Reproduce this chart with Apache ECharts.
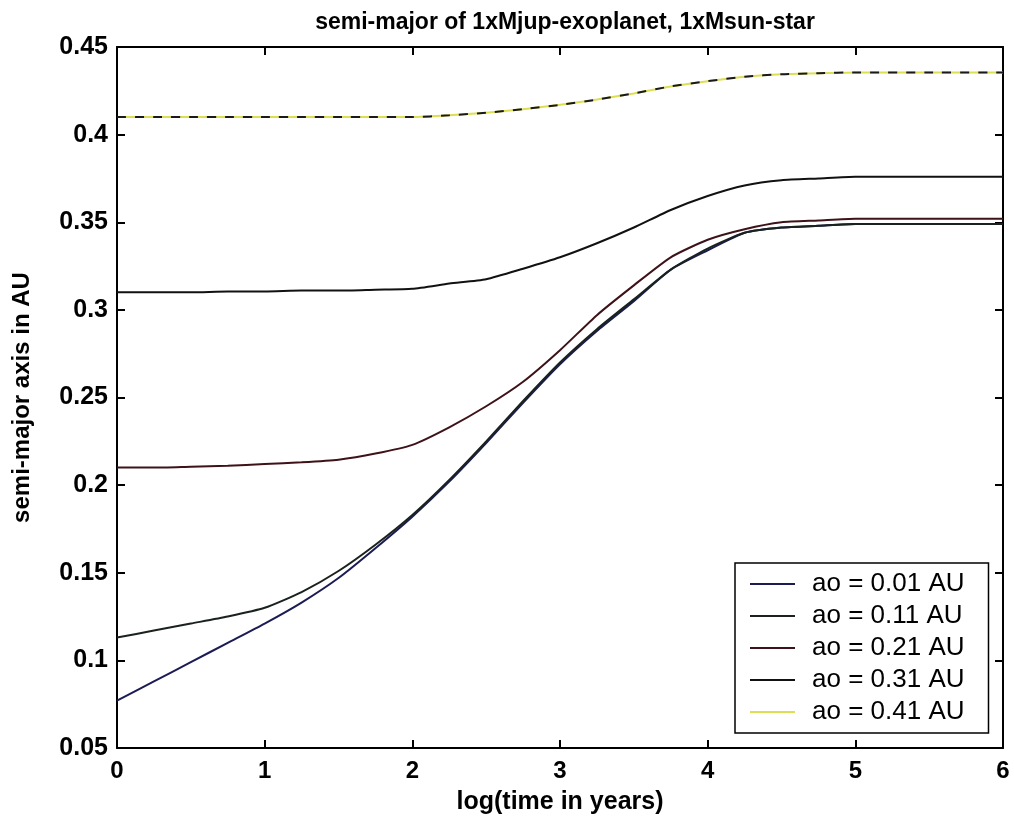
<!DOCTYPE html>
<html>
<head>
<meta charset="utf-8">
<script src="https://cdn.jsdelivr.net/npm/echarts@6/dist/echarts.min.js"></script>
<style>
html,body{margin:0;padding:0;background:#fff;}
#chart{width:1014px;height:826px;}
</style>
</head>
<body>
<div id="chart"></div>
<script>
// log10(time in years)
var logTime = [0, 0.25, 0.5, 0.75, 1, 1.25, 1.5, 1.75, 2, 2.25, 2.5, 2.75, 3, 3.25, 3.5, 3.75, 4, 4.25, 4.5, 4.75, 5, 5.5, 6];

var seriesNames = ['ao = 0.01 AU', 'ao = 0.11 AU', 'ao = 0.21 AU', 'ao = 0.31 AU', 'ao = 0.41 AU'];

var a001 = [0.077, 0.088, 0.099, 0.110, 0.121, 0.133, 0.147, 0.164, 0.182, 0.202, 0.224, 0.247, 0.269, 0.288, 0.305, 0.323, 0.334, 0.344, 0.347, 0.348, 0.349, 0.349, 0.349];
var a011 = [0.113, 0.117, 0.121, 0.125, 0.130, 0.139, 0.151, 0.166, 0.183, 0.203, 0.225, 0.248, 0.270, 0.289, 0.306, 0.323, 0.335, 0.344, 0.347, 0.348, 0.349, 0.349, 0.349];
var a021 = [0.210, 0.210, 0.2105, 0.211, 0.212, 0.213, 0.2145, 0.218, 0.223, 0.233, 0.245, 0.259, 0.277, 0.297, 0.314, 0.330, 0.340, 0.346, 0.350, 0.351, 0.352, 0.352, 0.352];
var a031 = [0.310, 0.310, 0.310, 0.3105, 0.3105, 0.311, 0.311, 0.3115, 0.312, 0.315, 0.3175, 0.3235, 0.330, 0.338, 0.347, 0.357, 0.365, 0.371, 0.374, 0.375, 0.376, 0.376, 0.376];
var a041 = [0.410, 0.410, 0.410, 0.410, 0.410, 0.410, 0.410, 0.410, 0.410, 0.411, 0.4125, 0.4145, 0.417, 0.420, 0.4235, 0.4275, 0.4305, 0.433, 0.4345, 0.435, 0.4355, 0.4355, 0.4355];

var xTicks = [0, 1, 2, 3, 4, 5, 6];
var yTicks = [0.05, 0.1, 0.15, 0.2, 0.25, 0.3, 0.35, 0.4, 0.45];

function pairs(ys) { return logTime.map(function (x, i) { return [x, ys[i]]; }); }

var FONT = "'Liberation Sans', Arial, sans-serif";
var allY = [a001, a011, a021, a031, a041];
var colors = ['#1c1c55', '#1a221d', '#3d1218', '#111111', '#dede55'];

var series = allY.map(function (ys, i) {
  return {
    name: seriesNames[i], type: 'line', data: pairs(ys), showSymbol: false, symbol: 'none',
    smooth: 0.2, color: colors[i],
    lineStyle: { width: 2, color: colors[i] }, z: 2 + i
  };
});
// dark dashes drawn over the yellow 0.41 AU curve (same data)
series.push({
  name: 'ao041dash', type: 'line', data: pairs(a041), showSymbol: false, symbol: 'none', smooth: 0.2,
  lineStyle: { width: 2, color: '#1a1a1a', type: [9, 9] }, z: 10, silent: true
});

var tickCommon = { show: true, inside: true, length: 8, lineStyle: { color: '#000', width: 2 } };
var lineCommon = { show: true, onZero: false, lineStyle: { color: '#000', width: 2 } };

var option = {
  animation: false,
  backgroundColor: '#fff',
  title: {
    text: 'semi-major of 1xMjup-exoplanet, 1xMsun-star',
    left: 560, top: 6, textAlign: 'center',
    textStyle: { fontFamily: FONT, fontSize: 23, fontWeight: 'bold', color: '#000' }
  },
  grid: { left: 117, right: 11, top: 47, bottom: 78 },
  legend: {
    data: seriesNames,
    orient: 'vertical', left: 735, top: 563,
    padding: [8, 24, 8, 15],
    itemGap: 6, itemWidth: 45, itemHeight: 14,
    icon: 'path://M0,6 L45,6 L45,8 L0,8 Z',
    backgroundColor: '#fff', borderColor: '#000', borderWidth: 1.5,
    textStyle: { fontFamily: FONT, fontSize: 26, color: '#000', padding: [0, 0, 0, 12] }
  },
  xAxis: [{
    type: 'value', min: 0, max: 6, interval: 1, position: 'bottom',
    name: 'log(time in years)', nameLocation: 'middle', nameGap: 42,
    nameTextStyle: { fontFamily: FONT, fontSize: 25, fontWeight: 'bold', color: '#000' },
    axisLine: lineCommon, axisTick: tickCommon, splitLine: { show: false },
    axisLabel: { fontFamily: FONT, fontSize: 24, fontWeight: 'bold', color: '#000', margin: 11,
      formatter: function (v) { return xTicks.indexOf(v) >= 0 ? String(v) : ''; } }
  }, {
    type: 'value', min: 0, max: 6, interval: 1, position: 'top',
    axisLine: lineCommon, axisTick: tickCommon, splitLine: { show: false }, axisLabel: { show: false }
  }],
  yAxis: [{
    type: 'value', min: 0.05, max: 0.45, interval: 0.05, position: 'left',
    name: 'semi-major axis in AU', nameLocation: 'middle', nameGap: 83, nameRotate: 90,
    nameTextStyle: { fontFamily: FONT, fontSize: 24, fontWeight: 'bold', color: '#000' },
    axisLine: lineCommon, axisTick: tickCommon, splitLine: { show: false },
    axisLabel: { fontFamily: FONT, fontSize: 25, fontWeight: 'bold', color: '#000', margin: 9,
      formatter: function (v) {
        var r = Math.round(v * 100) / 100;
        for (var i = 0; i < yTicks.length; i++) { if (Math.abs(yTicks[i] - r) < 1e-9) return String(yTicks[i]); }
        return '';
      } }
  }, {
    type: 'value', min: 0.05, max: 0.45, interval: 0.05, position: 'right',
    axisLine: lineCommon, axisTick: tickCommon, splitLine: { show: false }, axisLabel: { show: false }
  }],
  series: series
};

var chart = echarts.init(document.getElementById('chart'), null, { renderer: 'canvas' });
chart.setOption(option);
</script>
</body>
</html>
